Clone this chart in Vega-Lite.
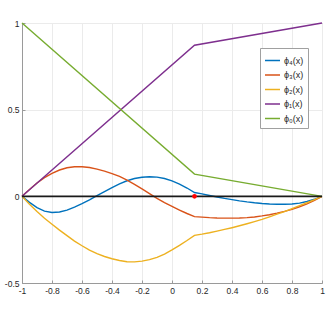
{
  "$schema": "https://vega.github.io/schema/vega-lite/v6.json",
  "width": 300,
  "height": 260,
  "autosize": {"type": "none"},
  "padding": {"left": 22, "top": 23, "right": 10, "bottom": 36},
  "background": "white",
  "config": {
    "font": "Liberation Sans",
    "view": {"stroke": "#9a9a9a", "strokeWidth": 1},
    "axis": {
      "labelFont": "Liberation Sans",
      "labelFontSize": 8.5,
      "labelColor": "#262626",
      "domainColor": "#9a9a9a",
      "tickColor": "#9a9a9a",
      "gridColor": "#ebebeb",
      "title": null
    }
  },
  "datasets": {
    "curves": [
      {"s":"ϕ₄(x)","x":-1,"y":0},{"s":"ϕ₄(x)","x":-0.95,"y":-0.035},{"s":"ϕ₄(x)","x":-0.9,"y":-0.065},{"s":"ϕ₄(x)","x":-0.85,"y":-0.085},{"s":"ϕ₄(x)","x":-0.8,"y":-0.093},{"s":"ϕ₄(x)","x":-0.75,"y":-0.09},{"s":"ϕ₄(x)","x":-0.7,"y":-0.08},{"s":"ϕ₄(x)","x":-0.65,"y":-0.062},{"s":"ϕ₄(x)","x":-0.6,"y":-0.042},{"s":"ϕ₄(x)","x":-0.55,"y":-0.02},{"s":"ϕ₄(x)","x":-0.5,"y":0.004},{"s":"ϕ₄(x)","x":-0.45,"y":0.027},{"s":"ϕ₄(x)","x":-0.4,"y":0.05},{"s":"ϕ₄(x)","x":-0.35,"y":0.072},{"s":"ϕ₄(x)","x":-0.3,"y":0.09},{"s":"ϕ₄(x)","x":-0.25,"y":0.103},{"s":"ϕ₄(x)","x":-0.2,"y":0.11},{"s":"ϕ₄(x)","x":-0.15,"y":0.113},{"s":"ϕ₄(x)","x":-0.1,"y":0.111},{"s":"ϕ₄(x)","x":-0.05,"y":0.103},{"s":"ϕ₄(x)","x":0,"y":0.089},{"s":"ϕ₄(x)","x":0.05,"y":0.07},{"s":"ϕ₄(x)","x":0.1,"y":0.048},{"s":"ϕ₄(x)","x":0.15,"y":0.022},{"s":"ϕ₄(x)","x":0.2,"y":0.014},{"s":"ϕ₄(x)","x":0.25,"y":0.005},{"s":"ϕ₄(x)","x":0.3,"y":-0.004},{"s":"ϕ₄(x)","x":0.35,"y":-0.012},{"s":"ϕ₄(x)","x":0.4,"y":-0.019},{"s":"ϕ₄(x)","x":0.45,"y":-0.026},{"s":"ϕ₄(x)","x":0.5,"y":-0.032},{"s":"ϕ₄(x)","x":0.55,"y":-0.037},{"s":"ϕ₄(x)","x":0.6,"y":-0.041},{"s":"ϕ₄(x)","x":0.65,"y":-0.044},{"s":"ϕ₄(x)","x":0.7,"y":-0.046},{"s":"ϕ₄(x)","x":0.75,"y":-0.046},{"s":"ϕ₄(x)","x":0.8,"y":-0.044},{"s":"ϕ₄(x)","x":0.85,"y":-0.039},{"s":"ϕ₄(x)","x":0.9,"y":-0.03},{"s":"ϕ₄(x)","x":0.95,"y":-0.017},{"s":"ϕ₄(x)","x":1,"y":0},
      {"s":"ϕ₃(x)","x":-1,"y":0},{"s":"ϕ₃(x)","x":-0.95,"y":0.04},{"s":"ϕ₃(x)","x":-0.9,"y":0.077},{"s":"ϕ₃(x)","x":-0.85,"y":0.108},{"s":"ϕ₃(x)","x":-0.8,"y":0.133},{"s":"ϕ₃(x)","x":-0.75,"y":0.152},{"s":"ϕ₃(x)","x":-0.7,"y":0.165},{"s":"ϕ₃(x)","x":-0.65,"y":0.171},{"s":"ϕ₃(x)","x":-0.6,"y":0.171},{"s":"ϕ₃(x)","x":-0.55,"y":0.166},{"s":"ϕ₃(x)","x":-0.5,"y":0.157},{"s":"ϕ₃(x)","x":-0.45,"y":0.145},{"s":"ϕ₃(x)","x":-0.4,"y":0.131},{"s":"ϕ₃(x)","x":-0.35,"y":0.115},{"s":"ϕ₃(x)","x":-0.3,"y":0.093},{"s":"ϕ₃(x)","x":-0.25,"y":0.069},{"s":"ϕ₃(x)","x":-0.2,"y":0.043},{"s":"ϕ₃(x)","x":-0.15,"y":0.016},{"s":"ϕ₃(x)","x":-0.1,"y":-0.012},{"s":"ϕ₃(x)","x":-0.05,"y":-0.036},{"s":"ϕ₃(x)","x":0,"y":-0.058},{"s":"ϕ₃(x)","x":0.05,"y":-0.079},{"s":"ϕ₃(x)","x":0.1,"y":-0.099},{"s":"ϕ₃(x)","x":0.15,"y":-0.117},{"s":"ϕ₃(x)","x":0.2,"y":-0.12},{"s":"ϕ₃(x)","x":0.25,"y":-0.123},{"s":"ϕ₃(x)","x":0.3,"y":-0.125},{"s":"ϕ₃(x)","x":0.35,"y":-0.126},{"s":"ϕ₃(x)","x":0.4,"y":-0.126},{"s":"ϕ₃(x)","x":0.45,"y":-0.125},{"s":"ϕ₃(x)","x":0.5,"y":-0.123},{"s":"ϕ₃(x)","x":0.55,"y":-0.119},{"s":"ϕ₃(x)","x":0.6,"y":-0.113},{"s":"ϕ₃(x)","x":0.65,"y":-0.106},{"s":"ϕ₃(x)","x":0.7,"y":-0.097},{"s":"ϕ₃(x)","x":0.75,"y":-0.087},{"s":"ϕ₃(x)","x":0.8,"y":-0.075},{"s":"ϕ₃(x)","x":0.85,"y":-0.06},{"s":"ϕ₃(x)","x":0.9,"y":-0.043},{"s":"ϕ₃(x)","x":0.95,"y":-0.023},{"s":"ϕ₃(x)","x":1,"y":0},
      {"s":"ϕ₂(x)","x":-1,"y":0},{"s":"ϕ₂(x)","x":-0.95,"y":-0.045},{"s":"ϕ₂(x)","x":-0.9,"y":-0.087},{"s":"ϕ₂(x)","x":-0.85,"y":-0.126},{"s":"ϕ₂(x)","x":-0.8,"y":-0.161},{"s":"ϕ₂(x)","x":-0.75,"y":-0.195},{"s":"ϕ₂(x)","x":-0.7,"y":-0.227},{"s":"ϕ₂(x)","x":-0.65,"y":-0.258},{"s":"ϕ₂(x)","x":-0.6,"y":-0.285},{"s":"ϕ₂(x)","x":-0.55,"y":-0.31},{"s":"ϕ₂(x)","x":-0.5,"y":-0.33},{"s":"ϕ₂(x)","x":-0.45,"y":-0.347},{"s":"ϕ₂(x)","x":-0.4,"y":-0.36},{"s":"ϕ₂(x)","x":-0.35,"y":-0.37},{"s":"ϕ₂(x)","x":-0.3,"y":-0.377},{"s":"ϕ₂(x)","x":-0.25,"y":-0.378},{"s":"ϕ₂(x)","x":-0.2,"y":-0.374},{"s":"ϕ₂(x)","x":-0.15,"y":-0.365},{"s":"ϕ₂(x)","x":-0.1,"y":-0.352},{"s":"ϕ₂(x)","x":-0.05,"y":-0.333},{"s":"ϕ₂(x)","x":0,"y":-0.309},{"s":"ϕ₂(x)","x":0.05,"y":-0.283},{"s":"ϕ₂(x)","x":0.1,"y":-0.255},{"s":"ϕ₂(x)","x":0.15,"y":-0.225},{"s":"ϕ₂(x)","x":0.2,"y":-0.218},{"s":"ϕ₂(x)","x":0.25,"y":-0.21},{"s":"ϕ₂(x)","x":0.3,"y":-0.201},{"s":"ϕ₂(x)","x":0.35,"y":-0.191},{"s":"ϕ₂(x)","x":0.4,"y":-0.181},{"s":"ϕ₂(x)","x":0.45,"y":-0.17},{"s":"ϕ₂(x)","x":0.5,"y":-0.158},{"s":"ϕ₂(x)","x":0.55,"y":-0.146},{"s":"ϕ₂(x)","x":0.6,"y":-0.133},{"s":"ϕ₂(x)","x":0.65,"y":-0.118},{"s":"ϕ₂(x)","x":0.7,"y":-0.103},{"s":"ϕ₂(x)","x":0.75,"y":-0.088},{"s":"ϕ₂(x)","x":0.8,"y":-0.071},{"s":"ϕ₂(x)","x":0.85,"y":-0.054},{"s":"ϕ₂(x)","x":0.9,"y":-0.037},{"s":"ϕ₂(x)","x":0.95,"y":-0.019},{"s":"ϕ₂(x)","x":1,"y":0},
      {"s":"ϕ₁(x)","x":-1,"y":0},{"s":"ϕ₁(x)","x":0.15,"y":0.872},{"s":"ϕ₁(x)","x":1,"y":1},
      {"s":"ϕ₀(x)","x":-1,"y":1},{"s":"ϕ₀(x)","x":0.15,"y":0.128},{"s":"ϕ₀(x)","x":1,"y":0}
    ],
    "zero": [{"x":-1,"y":0},{"x":1,"y":0}],
    "node": [{"x":0.15,"y":0}]
  },
  "encoding": {
    "x": {"field": "x", "type": "quantitative", "scale": {"domain": [-1, 1], "nice": false, "zero": false},
      "axis": {"orient": "bottom", "values": [-1,-0.8,-0.6,-0.4,-0.2,0,0.2,0.4,0.6,0.8,1], "labelExpr": "'' + datum.value", "grid": true, "tickSize": -3, "labelPadding": 6, "labelFlush": false}},
    "y": {"field": "y", "type": "quantitative", "scale": {"domain": [-0.5, 1], "nice": false, "zero": false},
      "axis": {"orient": "left", "values": [-0.5,0,0.5,1], "labelExpr": "'' + datum.value", "grid": true, "tickSize": -3, "labelPadding": 6, "labelFlush": false}}
  },
  "layer": [
    {
      "data": {"name": "curves"},
      "mark": {"type": "line", "strokeWidth": 1.4, "interpolate": "linear"},
      "encoding": {
        "color": {"field": "s", "type": "nominal",
          "scale": {"domain": ["ϕ₄(x)","ϕ₃(x)","ϕ₂(x)","ϕ₁(x)","ϕ₀(x)"], "range": ["#0072BD","#D95319","#EDB120","#7E2F8E","#77AC30"]},
          "legend": {"title": null, "orient": "none", "legendX": 238, "legendY": 25, "symbolType": "stroke", "symbolSize": 225, "symbolStrokeWidth": 1.5, "labelFontSize": 9, "labelColor": "#262626", "labelFont": "Liberation Sans", "fillColor": "white", "strokeColor": "#a0a0a0", "padding": 4, "rowPadding": 0.5, "labelOffset": 3}},
        "detail": {"field": "s"},
        "order": {"field": "x", "type": "quantitative"}
      }
    },
    {
      "data": {"name": "zero"},
      "mark": {"type": "line", "color": "#1a1a1a", "strokeWidth": 1.8},
      "encoding": {}
    },
    {
      "data": {"name": "node"},
      "mark": {"type": "point", "filled": true, "color": "#ff0000", "size": 22, "opacity": 1},
      "encoding": {}
    }
  ]
}
